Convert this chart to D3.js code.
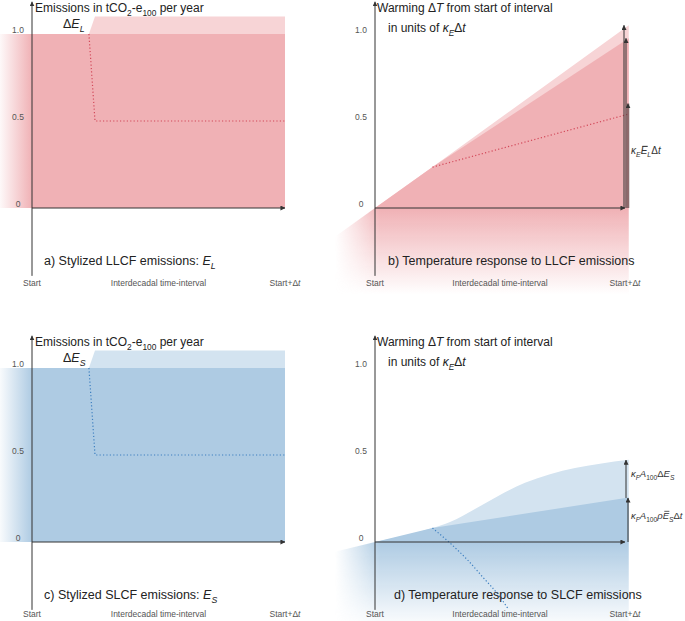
<!DOCTYPE html>
<html>
<head>
<meta charset="utf-8">
<script src="https://cdn.jsdelivr.net/npm/d3@7"></script>
<style>
  body { margin: 0; background: #fff; }
  svg { display: block; }
</style>
</head>
<body>
<script>
"use strict";

// --- emissions panels (a, c): time in units of the interval, level in units of E
const emisTime = [0, 0.225, 0.249, 1];
const emisBase = [1, 1, 1, 1];
const emisTop = [1, 1, 1.1, 1.1];
const emisCut = [1, 1, 0.5, 0.5];

// --- temperature response to LLCF (b)
const llcfTime = [-0.16, 0, 0.23, 1.015];
const llcfUpper = [-0.165, 0, 0.235, 1.05];
const llcfLower = [-0.165, 0, 0.235, 0.975];
const llcfCutTime = [0.23, 1.015];
const llcfCut = [0.235, 0.54];
const llcfArrowTime = [0.996, 1.004, 1.012];
const llcfArrowTop = [1.05, 0.975, 0.6];

// --- temperature response to SLCF (d)
const slcfUpperTime = [-0.16, 0, 0.23, 0.3, 0.4, 0.5, 0.6, 0.7, 0.8, 0.9, 1.015];
const slcfUpper = [-0.056, 0, 0.08, 0.115, 0.19, 0.27, 0.34, 0.39, 0.425, 0.45, 0.472];
const slcfLowerTime = [-0.16, 0, 0.23, 1.015];
const slcfLower = [-0.056, 0, 0.08, 0.256];
const slcfCutTime = [0.23, 0.3, 0.37, 0.43, 0.5, 0.535];
const slcfCut = [0.08, -0.006, -0.103, -0.2, -0.316, -0.39];
const slcfArrowTime = [1.004, 1.012];
const slcfArrowBase = [0.253, 0];
const slcfArrowTop = [0.471, 0.253];

// --- ticks
const yTicks = [0, 0.5, 1.0];
const yTickLabels = ["0", "0.5", "1.0"];
const xTicks = [0, 0.5, 1];
const xTickLabels = ["Start", "Interdecadal time-interval", "Start+\u0394t"];

const FONT = "'Liberation Sans', Arial, Helvetica, sans-serif";
const UNIT = 174;

const red = { main: "#f0b1b5", light: "#f7d4d6", dot: "#d2495a" };
const blue = { main: "#aecbe3", light: "#d3e3f0", dot: "#3d7fc0" };

const svg = d3.select("body").append("svg")
  .attr("width", 685)
  .attr("height", 621)
  .attr("font-family", FONT);

const defs = svg.append("defs");

// arrowhead
defs.append("marker")
  .attr("id", "head")
  .attr("viewBox", "0 -3 6 6")
  .attr("refX", 5.5)
  .attr("refY", 0)
  .attr("markerUnits", "userSpaceOnUse")
  .attr("markerWidth", 5)
  .attr("markerHeight", 5)
  .attr("orient", "auto")
  .append("path")
  .attr("d", "M0,-3L6,0L0,3Z")
  .attr("fill", "#333");

// rich text: parts [{t, it, sub, bar}]
function rich(sel, x, y, parts, size, fill) {
  let t = sel.append("text")
    .attr("x", x)
    .attr("y", y)
    .attr("font-size", size + "px")
    .attr("fill", fill || "#222");
  let shift = 0;
  let idx = 0;
  let bars = [];
  parts.forEach(function(p) {
    let want = p.sub ? size * 0.3 : 0;
    let s = t.append("tspan").text(p.t).attr("dy", want - shift);
    if (p.sub) s.attr("font-size", (size * 0.7) + "px");
    if (p.it) s.attr("font-style", "italic");
    if (p.bar) bars.push(idx);
    idx += p.t.length;
    shift = want;
  });
  // overbars drawn from glyph extents
  bars.forEach(function(i) {
    let r = t.node().getExtentOfChar(i);
    let top = r.y + r.height * 0.12;
    sel.append("line")
      .attr("x1", r.x + r.width * 0.25).attr("x2", r.x + r.width * 1.05)
      .attr("y1", top).attr("y2", top)
      .attr("stroke", fill || "#222").attr("stroke-width", 0.8);
  });
  return t;
}

function makePanel(id, x0, x1, y0) {
  let x = d3.scaleLinear().domain([0, 1]).range([x0, x1]);
  let y = d3.scaleLinear().domain([0, 1]).range([y0, y0 - UNIT]);
  let g = svg.append("g").attr("id", id);
  return { x: x, y: y, g: g, x0: x0, y0: y0 };
}

function drawAxes(p, labelDy) {
  let g = p.g.append("g");
  // y axis (runs below zero to the tick labels)
  g.append("line")
    .attr("x1", p.x(0)).attr("x2", p.x(0))
    .attr("y1", p.y(-0.39)).attr("y2", p.y(1.185))
    .attr("stroke", "#333").attr("stroke-width", 1)
    .attr("marker-end", "url(#head)");
  // x axis
  g.append("line")
    .attr("x1", p.x(0)).attr("x2", p.x(1))
    .attr("y1", p.y(0)).attr("y2", p.y(0))
    .attr("stroke", "#333").attr("stroke-width", 1)
    .attr("marker-end", "url(#head)");
  // y tick labels
  g.selectAll(".ytick").data(yTicks).join("text")
    .attr("x", p.x(0) - 14)
    .attr("y", d => p.y(d) - 1)
    .attr("text-anchor", "middle")
    .attr("font-size", "8.5px")
    .attr("fill", "#555")
    .text((d, i) => yTickLabels[i]);
  // x tick labels (italic t in Δt)
  xTicks.forEach(function(d, i) {
    let lab = xTickLabels[i];
    let t = g.append("text")
      .attr("x", p.x(d))
      .attr("y", p.y0 + labelDy)
      .attr("text-anchor", "middle")
      .attr("font-size", "8.5px")
      .attr("fill", "#555");
    if (lab.endsWith("\u0394t")) {
      t.append("tspan").text(lab.slice(0, -1));
      t.append("tspan").text("t").attr("font-style", "italic");
    } else {
      t.text(lab);
    }
  });
}

// ---------- emissions panel ----------
function emissionsPanel(p, col, gid, sub, label, labelDy) {
  let g = p.g;
  let grad = defs.append("linearGradient")
    .attr("id", gid)
    .attr("gradientUnits", "userSpaceOnUse")
    .attr("x1", 0).attr("x2", p.x(0)).attr("y1", 0).attr("y2", 0);
  grad.append("stop").attr("offset", 0).attr("stop-color", col.main).attr("stop-opacity", 0.08);
  grad.append("stop").attr("offset", 1).attr("stop-color", col.main).attr("stop-opacity", 1);

  // left fade before start
  g.append("rect")
    .attr("x", 0).attr("y", p.y(1))
    .attr("width", p.x(0)).attr("height", p.y(0) - p.y(1))
    .attr("fill", "url(#" + gid + ")");

  let base = d3.zip(emisTime, emisBase);
  let area = d3.area().x(d => p.x(d[0])).y0(p.y(0)).y1(d => p.y(d[1]));
  g.append("path").datum(base).attr("d", area).attr("fill", col.main);

  // extra emissions band
  let band = d3.zip(emisTime, emisBase, emisTop).slice(1);
  g.append("path").datum(band)
    .attr("d", d3.area().x(d => p.x(d[0])).y0(d => p.y(d[1])).y1(d => p.y(d[2])))
    .attr("fill", col.light);

  // reduced emissions (dotted)
  let cut = d3.zip(emisTime, emisCut).slice(1);
  g.append("path").datum(cut)
    .attr("d", d3.line().x(d => p.x(d[0])).y(d => p.y(d[1])))
    .attr("fill", "none").attr("stroke", col.dot)
    .attr("stroke-width", 1.2).attr("stroke-dasharray", "1.2,2.2");

  drawAxes(p, labelDy);

  // title
  rich(g, p.x0 + 3, p.y0 - 196, [
    { t: "Emissions in tCO" }, { t: "2", sub: true }, { t: "-e" },
    { t: "100", sub: true }, { t: " per year" }
  ], 12);
  rich(g, p.x0 + 31, p.y0 - 180, [
    { t: "\u0394" }, { t: "E", it: true }, { t: sub, sub: true, it: true }
  ], 12.5);
  rich(g, p.x0 + 12, p.y0 + 57, label, 12.5);
}

// ---------- temperature panel ----------
function tempPanel(p, col, gid, upper, lower, cut, curveUp, curveCut, labelDy) {
  let g = p.g;
  // below-zero fading region
  let vg = defs.append("linearGradient")
    .attr("id", gid + "v")
    .attr("gradientUnits", "userSpaceOnUse")
    .attr("x1", 0).attr("x2", 0).attr("y1", p.y(0)).attr("y2", p.y(-0.5));
  vg.append("stop").attr("offset", 0).attr("stop-color", col.main).attr("stop-opacity", 1);
  vg.append("stop").attr("offset", 0.45).attr("stop-color", col.main).attr("stop-opacity", 0.55);
  vg.append("stop").attr("offset", 1).attr("stop-color", col.main).attr("stop-opacity", 0);
  let hg = defs.append("linearGradient")
    .attr("id", gid + "h")
    .attr("gradientUnits", "userSpaceOnUse")
    .attr("x1", p.x(-0.16)).attr("x2", p.x(0.02)).attr("y1", 0).attr("y2", 0);
  hg.append("stop").attr("offset", 0).attr("stop-color", "#fff").attr("stop-opacity", 0);
  hg.append("stop").attr("offset", 1).attr("stop-color", "#fff").attr("stop-opacity", 1);
  let mask = defs.append("mask").attr("id", gid + "m");
  mask.append("rect")
    .attr("x", 0).attr("y", 0).attr("width", 685).attr("height", 621)
    .attr("fill", "url(#" + gid + "h)");

  let neg = lower.filter(d => d[0] <= 0);
  let endT = lower[lower.length - 1][0];
  let bottom = -0.5;
  let below = neg.concat([[endT, 0], [endT, bottom], [neg[0][0], bottom]]);
  g.append("path").datum(below)
    .attr("d", d3.line().x(d => p.x(d[0])).y(d => p.y(d[1])))
    .attr("fill", "url(#" + gid + "v)")
    .attr("mask", "url(#" + gid + "m)");

  // light (upper) and dark (lower) response areas
  let pos = arr => arr.filter(d => d[0] >= 0);
  g.append("path").datum(pos(upper))
    .attr("d", d3.area().curve(curveUp).x(d => p.x(d[0])).y0(p.y(0)).y1(d => p.y(d[1])))
    .attr("fill", col.light);
  g.append("path").datum(pos(lower))
    .attr("d", d3.area().x(d => p.x(d[0])).y0(p.y(0)).y1(d => p.y(d[1])))
    .attr("fill", col.main);

  // reduced-emissions response (dotted)
  g.append("path").datum(cut)
    .attr("d", d3.line().curve(curveCut).x(d => p.x(d[0])).y(d => p.y(d[1])))
    .attr("fill", "none").attr("stroke", col.dot)
    .attr("stroke-width", 1.2).attr("stroke-dasharray", "1.2,2.2");

  drawAxes(p, labelDy);

  rich(g, p.x0 + 2, p.y0 - 196, [
    { t: "Warming \u0394" }, { t: "T", it: true }, { t: " from start of interval" }
  ], 12);
  rich(g, p.x0 + 13, p.y0 - 176, [
    { t: "in units of " }, { t: "\u03BA", it: true }, { t: "E", sub: true, it: true },
    { t: "\u0394" }, { t: "t", it: true }
  ], 12);
}

function arrow(p, t, v0, v1, opts) {
  opts = opts || {};
  p.g.append("line")
    .attr("x1", p.x(t)).attr("x2", p.x(t))
    .attr("y1", p.y(v0)).attr("y2", p.y(v1))
    .attr("stroke", opts.stroke || "#333")
    .attr("stroke-width", opts.width || 1)
    .attr("marker-end", "url(#head)");
}

// ---------- panel a ----------
const pa = makePanel("a", 32, 285, 208);
emissionsPanel(pa, red, "ga", "L", [
  { t: "a) Stylized LLCF emissions: " }, { t: "E", it: true }, { t: "L", sub: true, it: true }
], 78);

// ---------- panel c ----------
const pc = makePanel("c", 32, 285, 542);
emissionsPanel(pc, blue, "gc", "S", [
  { t: "c) Stylized SLCF emissions: " }, { t: "E", it: true }, { t: "S", sub: true, it: true }
], 75);

// ---------- panel b ----------
const pb = makePanel("b", 375, 625, 208);
tempPanel(pb, red, "gb",
  d3.zip(llcfTime, llcfUpper),
  d3.zip(llcfTime, llcfLower),
  d3.zip(llcfCutTime, llcfCut),
  d3.curveLinear, d3.curveLinear, 78);
arrow(pb, llcfArrowTime[0], 0, llcfArrowTop[0]);
arrow(pb, llcfArrowTime[1], 0, llcfArrowTop[1]);
arrow(pb, llcfArrowTime[2], 0, llcfArrowTop[2], { stroke: "rgba(110,80,82,0.75)", width: 2.6 });
rich(pb.g, 631, 154, [
  { t: "\u03BA", it: true }, { t: "E", sub: true, it: true },
  { t: "E", it: true, bar: true }, { t: "L", sub: true, it: true },
  { t: "\u0394" }, { t: "t", it: true }
], 10, "#333");
rich(pb.g, pb.x0 + 13, pb.y0 + 57, [{ t: "b) Temperature response to LLCF emissions" }], 12.5);

// ---------- panel d ----------
const pd = makePanel("d", 375, 625, 542);
tempPanel(pd, blue, "gd",
  d3.zip(slcfUpperTime, slcfUpper),
  d3.zip(slcfLowerTime, slcfLower),
  d3.zip(slcfCutTime, slcfCut),
  d3.curveMonotoneX, d3.curveMonotoneX, 75);
arrow(pd, slcfArrowTime[0], slcfArrowBase[0], slcfArrowTop[0]);
arrow(pd, slcfArrowTime[1], slcfArrowBase[1], slcfArrowTop[1]);
rich(pd.g, 631, 477, [
  { t: "\u03BA", it: true }, { t: "F", sub: true, it: true },
  { t: "A", it: true }, { t: "100", sub: true },
  { t: "\u0394" }, { t: "E", it: true }, { t: "S", sub: true, it: true }
], 9.5, "#333");
rich(pd.g, 631, 519, [
  { t: "\u03BA", it: true }, { t: "F", sub: true, it: true },
  { t: "A", it: true }, { t: "100", sub: true },
  { t: "\u03C1", it: true }, { t: "E", it: true, bar: true }, { t: "S", sub: true, it: true },
  { t: "\u0394" }, { t: "t", it: true }
], 9.5, "#333");
rich(pd.g, pd.x0 + 19, pd.y0 + 57, [{ t: "d) Temperature response to SLCF emissions" }], 12.5);
</script>
</body>
</html>
